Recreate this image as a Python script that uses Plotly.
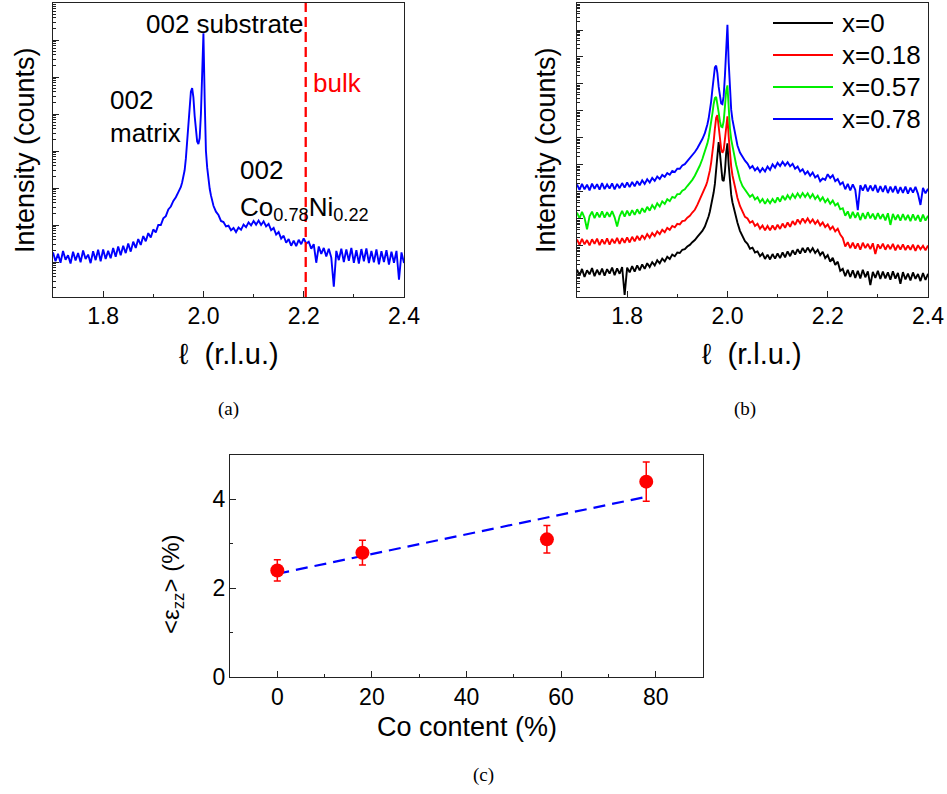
import numpy as np
import plotly.graph_objects as go

W, H = 947, 794
SANS = "Liberation Sans, Arial, sans-serif"
SERIF = "Liberation Serif, DejaVu Serif, serif"

# ---------------- sample positions along l (r.l.u.) ----------------
l_left = np.round(np.arange(1.700, 1.9551, 0.005), 4)    # 52 pts
l_peak = np.round(np.arange(1.9575, 2.0176, 0.0025), 4)  # 25 pts
l_right = np.round(np.arange(2.020, 2.4001, 0.005), 4)   # 77 pts
l_grid = np.concatenate([l_left, l_peak, l_right])

# ---------------- panel (a): Co0.78Ni0.22, log10(intensity) ----------------
a_left = [1.26, 1.02, 1.22, 0.98, 1.30, 1.06, 1.18, 0.96, 1.28, 1.04,
          1.24, 0.99, 1.31, 1.08, 1.20, 0.97, 1.29, 1.05, 1.33, 1.02,
          1.34, 1.08, 1.30, 1.10, 1.38, 1.14, 1.42, 1.18, 1.44, 1.24,
          1.50, 1.28, 1.55, 1.38, 1.62, 1.46, 1.70, 1.56, 1.78, 1.66,
          1.88, 1.80, 2.00, 2.00, 2.18, 2.24, 2.42, 2.50, 2.65, 2.75,
          2.89, 3.03]
a_peak = [3.15, 3.30, 3.48, 3.80, 4.25, 4.80, 5.25, 5.60, 5.70, 5.45,
          4.95, 4.50, 4.26, 4.19, 4.35, 5.00, 6.10, 7.18, 5.40, 4.00,
          3.55, 3.22, 2.98, 2.80, 2.65]
a_right = [2.52, 2.36, 2.27, 2.11, 2.08, 1.96, 1.98, 1.86, 1.92, 1.81,
           1.93, 1.87, 2.01, 1.94, 2.07, 1.99, 2.11, 2.01, 2.12, 2.00,
           2.10, 1.96, 2.03, 1.86, 1.92, 1.74, 1.81, 1.63, 1.71, 1.52,
           1.62, 1.44, 1.58, 1.43, 1.60, 1.48, 1.64, 1.50, 1.55, 1.36,
           1.48, 0.98, 1.42, 1.22, 1.38, 1.15, 1.36, 1.12, 0.33, 1.30,
           1.05, 1.36, 1.00, 1.34, 1.03, 1.38, 0.98, 1.32, 0.96, 1.35,
           1.02, 1.37, 0.97, 1.30, 0.99, 1.34, 0.94, 1.29, 1.00, 1.32,
           0.93, 1.28, 0.98, 1.30, 0.52, 1.26, 0.97]
bulk_l = 2.204

# ---------------- panel (b): four compositions, log10(intensity) ----------------
k_left = [1.12, 0.90, 1.15, 0.85, 1.10, 0.95, 1.18, 0.88, 1.12, 0.93,
          1.16, 0.90, 1.14, 0.98, 1.20, 0.92, 1.17, 0.97, 1.22, 0.19,
          1.20, 1.02, 1.25, 1.05, 1.28, 1.10, 1.32, 1.15, 1.36, 1.22,
          1.40, 1.28, 1.47, 1.36, 1.53, 1.43, 1.60, 1.52, 1.68, 1.62,
          1.76, 1.74, 1.86, 1.88, 1.98, 2.04, 2.14, 2.22, 2.34, 2.44,
          2.56, 2.72]
k_peak = [2.83, 2.95, 3.10, 3.28, 3.48, 3.70, 3.98, 4.30, 4.75, 5.35,
          5.85, 5.45, 4.85, 4.45, 4.40, 4.75, 5.45, 5.80, 5.00, 4.30,
          3.90, 3.62, 3.40, 3.20, 3.02]
k_right = [2.86, 2.56, 2.34, 2.18, 2.08, 1.90, 1.94, 1.76, 1.80, 1.62,
           1.72, 1.52, 1.68, 1.50, 1.70, 1.53, 1.72, 1.55, 1.76, 1.58,
           1.80, 1.62, 1.84, 1.68, 1.88, 1.72, 1.93, 1.76, 1.94, 1.78,
           1.92, 1.74, 1.86, 1.66, 1.78, 1.55, 1.66, 1.42, 1.56, 1.30,
           1.42, 1.08, 1.15, 0.88, 1.12, 0.85, 1.10, 0.82, 1.08, 0.80,
           1.12, 0.84, 1.06, 0.55, 1.04, 0.82, 1.08, 0.78, 1.05, 0.80,
           1.02, 0.75, 1.06, 0.79, 1.00, 0.60, 1.03, 0.76, 0.98, 0.72,
           1.02, 0.78, 0.96, 0.70, 1.00, 0.74, 0.97]

r_left = [2.24, 2.04, 2.26, 2.06, 2.22, 2.02, 2.25, 2.08, 2.27, 2.03,
          2.24, 2.07, 2.28, 2.05, 2.26, 2.10, 2.30, 2.08, 2.29, 2.12,
          2.32, 2.13, 2.34, 2.17, 2.37, 2.21, 2.40, 2.26, 2.44, 2.31,
          2.48, 2.37, 2.54, 2.44, 2.60, 2.51, 2.67, 2.60, 2.74, 2.69,
          2.82, 2.80, 2.92, 2.94, 3.05, 3.12, 3.24, 3.34, 3.52, 3.72,
          3.92, 4.12]
r_peak = [4.25, 4.40, 4.58, 4.80, 5.08, 5.40, 5.85, 6.35, 6.75, 6.85,
          6.45, 5.95, 5.60, 5.45, 5.55, 5.95, 6.55, 6.80, 6.05, 5.35,
          4.95, 4.62, 4.38, 4.15, 3.95]
r_right = [3.78, 3.48, 3.28, 3.08, 3.02, 2.86, 2.92, 2.74, 2.82, 2.64,
           2.76, 2.58, 2.74, 2.58, 2.76, 2.60, 2.79, 2.63, 2.83, 2.67,
           2.87, 2.71, 2.92, 2.78, 2.98, 2.84, 3.02, 2.87, 3.02, 2.86,
           2.98, 2.82, 2.94, 2.76, 2.87, 2.70, 2.80, 2.62, 2.72, 2.54,
           2.64, 2.42, 2.30, 1.98, 2.14, 1.92, 2.12, 1.90, 2.10, 1.86,
           2.12, 1.92, 2.08, 1.88, 2.10, 1.70, 2.06, 1.90, 2.09, 1.86,
           2.05, 1.88, 2.08, 1.84, 2.04, 1.87, 2.06, 1.85, 2.02, 1.86,
           2.05, 1.82, 2.03, 1.88, 2.01, 1.84, 2.02]

g_left = [3.24, 3.02, 3.26, 3.04, 2.62, 3.10, 3.27, 3.03, 3.24, 3.06,
          3.28, 3.05, 3.25, 3.08, 3.29, 3.06, 2.72, 3.10, 3.30, 3.09,
          3.31, 3.12, 3.33, 3.15, 3.36, 3.19, 3.40, 3.25, 3.45, 3.31,
          3.51, 3.38, 3.58, 3.46, 3.65, 3.56, 3.73, 3.66, 3.82, 3.78,
          3.92, 3.92, 4.05, 4.10, 4.22, 4.32, 4.45, 4.60, 4.78, 4.98,
          5.22, 5.48]
g_peak = [5.62, 5.80, 6.00, 6.25, 6.55, 6.90, 7.25, 7.48, 7.52, 7.30,
          6.95, 6.62, 6.42, 6.40, 6.62, 7.15, 7.75, 7.95, 7.05, 6.35,
          5.95, 5.68, 5.45, 5.22, 5.00]
g_right = [4.82, 4.45, 4.22, 4.08, 3.98, 3.82, 3.90, 3.72, 3.80, 3.62,
           3.74, 3.56, 3.72, 3.58, 3.74, 3.60, 3.80, 3.64, 3.86, 3.70,
           3.88, 3.74, 3.92, 3.78, 3.95, 3.80, 3.96, 3.81, 3.95, 3.78,
           3.92, 3.74, 3.86, 3.68, 3.80, 3.62, 3.74, 3.56, 3.68, 3.50,
           3.58, 3.36, 3.40, 3.12, 3.28, 3.02, 3.26, 3.04, 3.24, 2.96,
           3.22, 3.00, 3.25, 3.02, 3.20, 2.98, 3.22, 3.00, 3.18, 2.95,
           3.21, 2.78, 3.19, 2.97, 3.16, 2.94, 3.18, 2.96, 3.15, 2.92,
           3.17, 2.95, 3.14, 2.90, 3.16, 2.94, 3.12]

b_left = [4.28, 4.08, 4.30, 4.10, 4.27, 4.06, 4.31, 4.12, 4.29, 4.09,
          4.33, 4.11, 4.28, 4.13, 4.32, 4.10, 4.30, 4.14, 4.33, 4.16,
          4.35, 4.18, 4.37, 4.21, 4.40, 4.25, 4.43, 4.30, 4.47, 4.35,
          4.52, 4.41, 4.57, 4.48, 4.63, 4.56, 4.70, 4.64, 4.78, 4.74,
          4.86, 4.86, 4.98, 5.03, 5.14, 5.24, 5.36, 5.48, 5.62, 5.78,
          5.96, 6.18]
b_peak = [6.32, 6.50, 6.72, 7.00, 7.35, 7.80, 8.25, 8.62, 8.68, 8.40,
          7.90, 7.50, 7.28, 7.25, 7.55, 8.30, 9.50, 10.19, 8.80, 7.65,
          7.05, 6.68, 6.40, 6.15, 5.92]
b_right = [5.72, 5.46, 5.28, 5.16, 5.05, 4.88, 4.96, 4.80, 4.90, 4.74,
           4.88, 4.76, 4.94, 4.82, 5.02, 4.90, 5.08, 4.96, 5.12, 4.98,
           5.10, 4.95, 5.04, 4.86, 4.94, 4.76, 4.84, 4.66, 4.76, 4.60,
           4.72, 4.54, 4.62, 4.40, 4.50, 4.45, 4.66, 4.52, 4.62, 4.40,
           4.48, 4.28, 4.36, 4.10, 4.30, 4.06, 4.28, 4.08, 3.33, 4.25,
           4.05, 4.27, 4.02, 4.24, 4.04, 4.26, 3.98, 4.22, 4.00, 4.24,
           3.96, 4.20, 3.99, 4.22, 3.95, 4.18, 3.97, 4.20, 3.94, 4.16,
           3.98, 4.19, 3.93, 3.52, 4.15, 3.95, 4.12]

series_labels = ["x=0", "x=0.18", "x=0.57", "x=0.78"]
series_colors = ["#000000", "#FF0000", "#00EE00", "#0000FF"]
series_logI = [k_left + k_peak + k_right,
               r_left + r_peak + r_right,
               g_left + g_peak + g_right,
               b_left + b_peak + b_right]

# ---------------- panel (c): strain vs Co content ----------------
co_content = [0, 18, 57, 78]
eps_zz = [2.40, 2.80, 3.10, 4.40]
eps_err = [0.24, 0.28, 0.31, 0.44]

# ------------------------------------------------------------------
a_logI = a_left + a_peak + a_right
for s in [a_logI] + series_logI:
    assert len(s) == len(l_grid), (len(s), len(l_grid))

fig = go.Figure()

fig.add_trace(go.Scatter(x=l_grid, y=10 ** np.array(a_logI), mode="lines",
                         line=dict(color="#0000FF", width=1.9),
                         xaxis="x", yaxis="y", showlegend=False))

for lab, col, s in zip(series_labels, series_colors, series_logI):
    fig.add_trace(go.Scatter(x=l_grid, y=10 ** np.array(s), mode="lines",
                             name=lab, line=dict(color=col, width=1.9),
                             xaxis="x2", yaxis="y2", showlegend=False))

slope, intercept = np.polyfit(co_content, eps_zz, 1)
fit_x = np.array([min(co_content), max(co_content)])
fig.add_trace(go.Scatter(x=fit_x, y=slope * fit_x + intercept, mode="lines",
                         line=dict(color="#0000FF", width=2.2, dash="12px,7px"),
                         xaxis="x3", yaxis="y3", showlegend=False))
fig.add_trace(go.Scatter(x=co_content, y=eps_zz, mode="markers",
                         marker=dict(color="#FF0000", size=14),
                         error_y=dict(type="data", array=eps_err, color="#FF0000",
                                      thickness=1.5, width=3.5),
                         xaxis="x3", yaxis="y3", showlegend=False))


def px(x):
    return x / W


def py(y):
    return 1 - y / H


line_col = "#222222"
tick_font = dict(family=SANS, size=23, color="black")


def base_axis(**kw):
    d = dict(showline=True, linecolor=line_col, linewidth=1.2, mirror=True,
             ticks="inside", tickcolor=line_col, tickwidth=1.1, showgrid=False,
             zeroline=False, automargin=False, tickfont=tick_font)
    d.update(kw)
    return d


def l_axis(domain):
    return base_axis(domain=domain, range=[1.7, 2.4],
                     tickvals=[1.8, 2.0, 2.2, 2.4],
                     ticktext=["1.8", "2.0", "2.2", "2.4"],
                     ticklen=6, ticklabelstandoff=-2,
                     minor=dict(tickvals=[1.9, 2.1, 2.3], ticklen=3,
                                ticks="inside", tickcolor=line_col))


def log_axis(domain, anchor, lo, hi):
    n0, n1 = int(np.ceil(lo)), int(np.floor(hi))
    major = [10.0 ** n for n in range(n0, n1 + 1)]
    minor = [k * 10.0 ** n for n in range(n0 - 1, n1 + 1) for k in range(2, 10)
             if lo <= np.log10(k * 10.0 ** n) <= hi]
    return base_axis(domain=domain, anchor=anchor, type="log", range=[lo, hi],
                     tickvals=major, showticklabels=False, ticklen=6,
                     minor=dict(tickvals=minor, ticklen=3, ticks="inside",
                                tickcolor=line_col))


top_dom = [py(297), py(3)]
fig.update_layout(
    width=W, height=H,
    margin=dict(l=0, r=0, t=0, b=0),
    paper_bgcolor="white", plot_bgcolor="white",
    font=dict(family=SANS, color="black"),
    xaxis=l_axis([px(53), px(404)]) | dict(anchor="y"),
    yaxis=log_axis(top_dom, "x", 0.054, 8.0),
    xaxis2=l_axis([px(577), px(928)]) | dict(anchor="y2"),
    yaxis2=log_axis(top_dom, "x2", 0.11, 11.0),
    xaxis3=base_axis(domain=[px(230), px(703)], anchor="y3", range=[-10, 90],
                     tickvals=[0, 20, 40, 60, 80], ticklen=6, ticklabelstandoff=-1,
                     minor=dict(tickvals=[10, 30, 50, 70], ticklen=3,
                                ticks="inside", tickcolor=line_col)),
    yaxis3=base_axis(domain=[py(677), py(455)], anchor="x3", range=[0, 5],
                     tickvals=[0, 2, 4], ticklen=6, ticklabelstandoff=-1,
                     minor=dict(tickvals=[1, 3], ticklen=3,
                                ticks="inside", tickcolor=line_col)),
)

fig.add_shape(type="line", xref="x", yref="y domain", x0=bulk_l, x1=bulk_l,
              y0=0, y1=1, line=dict(color="#FF0000", width=2.3, dash="10px,5px"))


def ann(text, x, y, size=26, color="black", xanchor="left", yanchor="middle",
        angle=0, family=SANS):
    return dict(text=text, x=px(x), y=py(y), xref="paper", yref="paper",
                showarrow=False, textangle=angle, xanchor=xanchor, yanchor=yanchor,
                font=dict(size=size, color=color, family=family))


anns = [
    ann("002 substrate", 144, 24),
    ann("bulk", 311, 83, color="#FF0000"),
    ann("002", 108, 100),
    ann("matrix", 108, 133),
    ann("002", 238, 170),
    ann("Co<sub>0.78</sub>Ni<sub>0.22</sub>", 238, 208),
    ann("Intensity (counts)", 25, 150, size=27, xanchor="center", angle=-90),
    ann("Intensity (counts)", 546, 150, size=27, xanchor="center", angle=-90),
    ann("ℓ  (r.l.u.)", 229, 354, size=29, xanchor="center"),
    ann("ℓ  (r.l.u.)", 752, 354, size=29, xanchor="center"),
    ann("Co content (%)", 467, 727, size=27, xanchor="center"),
    ann("&lt;ε<sub>zz</sub>&gt; (%)", 172, 584, size=24, xanchor="center", angle=-90),
    ann("(a)", 228, 409, size=19, xanchor="center", family=SERIF),
    ann("(b)", 745, 409, size=19, xanchor="center", family=SERIF),
    ann("(c)", 483, 775, size=19, xanchor="center", family=SERIF),
]

# legend of panel (b)
legend_rows = [23, 55, 87, 119]
for lab, col, yrow in zip(series_labels, series_colors, legend_rows):
    fig.add_shape(type="line", xref="paper", yref="paper",
                  x0=px(773), x1=px(833), y0=py(yrow), y1=py(yrow),
                  line=dict(color=col, width=2.2))
    anns.append(ann(lab, 840, yrow, size=26))

fig.update_layout(annotations=anns)

# the page body has a default 8px margin; remove it so the figure fills the window
fig.write_html("out.html", config={"displayModeBar": False},
               post_script="document.body.style.margin='0px';")
